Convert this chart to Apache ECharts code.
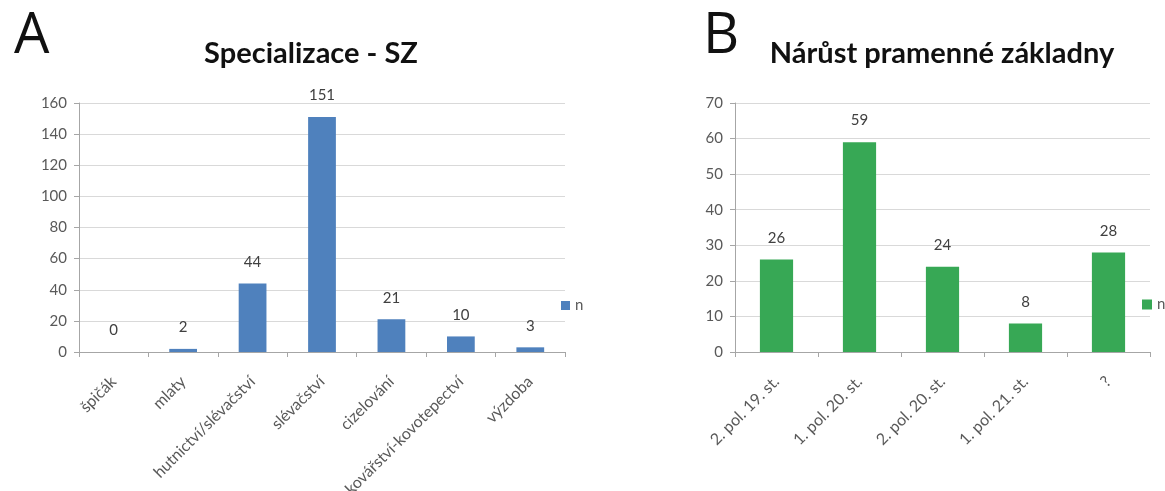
<!DOCTYPE html>
<html>
<head>
<meta charset="utf-8">
<script src="https://cdn.jsdelivr.net/npm/echarts@6/dist/echarts.min.js"></script>
<style>
  html, body { margin: 0; padding: 0; background: #fff; }
  #chart { width: 1165px; height: 491px; }
</style>
</head>
<body>
<div id="chart"></div>
<script>
// Panel A: specialisation counts
const specCategories = ['špičák', 'mlaty', 'hutnictví/slévačství', 'slévačství', 'cizelování', 'kovářství-kovotepectví', 'výzdoba'];
const specValues = [0, 2, 44, 151, 21, 10, 3];

// Panel B: growth of the source base by period
const periodCategories = ['2. pol. 19. st.', '1. pol. 20. st.', '2. pol. 20. st.', '1. pol. 21. st.', '?'];
const periodValues = [26, 59, 24, 8, 28];

const FONT = 'Lato, "Open Sans", sans-serif';
const axisGray = '#A6A6A6';
const gridGray = '#D9D9D9';
const labelColor = '#595959';

function xAxisFor(gridIndex, data) {
  return {
    type: 'category', gridIndex: gridIndex, data: data,
    axisLine: { lineStyle: { color: axisGray, width: 1 } },
    axisTick: { show: true, length: 5, lineStyle: { color: axisGray } },
    axisLabel: { rotate: 45, margin: 27, color: labelColor, fontSize: 16, fontFamily: FONT, interval: 0 }
  };
}
function yAxisFor(gridIndex, max, interval) {
  return {
    type: 'value', gridIndex: gridIndex, min: 0, max: max, interval: interval,
    axisLine: { show: true, lineStyle: { color: axisGray, width: 1 } },
    axisTick: { show: true, length: 5, lineStyle: { color: axisGray } },
    splitLine: { lineStyle: { color: gridGray, width: 1 } },
    axisLabel: { margin: 12, color: labelColor, fontSize: 15, fontFamily: FONT }
  };
}
const valueLabel = { show: true, position: 'top', distance: 14, color: '#404040', fontSize: 15, fontFamily: FONT };

const chart = echarts.init(document.getElementById('chart'), null, { renderer: 'canvas' });
chart.setOption({
  animation: false,
  backgroundColor: '#fff',
  title: [
    { text: 'A', left: 9, top: 4, textStyle: { fontFamily: '"Open Sans", sans-serif', fontWeight: 'normal', fontSize: 56, color: '#111' } },
    { text: 'B', left: 698, top: 4, textStyle: { fontFamily: '"Open Sans", sans-serif', fontWeight: 'normal', fontSize: 56, color: '#111' } },
    { text: 'Specializace - SZ', left: 306, top: 34, textAlign: 'center', textStyle: { fontFamily: FONT, fontWeight: 'bold', fontSize: 29, color: '#111' } },
    { text: 'Nárůst pramenné základny', left: 937, top: 34, textAlign: 'center', textStyle: { fontFamily: FONT, fontWeight: 'bold', fontSize: 29, color: '#111' } }
  ],
  legend: [
    { data: ['nA'], left: 556, top: 293, itemWidth: 9, itemHeight: 9, icon: 'rect', formatter: () => 'n',
      textStyle: { fontFamily: FONT, fontSize: 15, color: labelColor } },
    { data: ['nB'], left: 1137, top: 292, itemWidth: 10, itemHeight: 10, icon: 'rect', formatter: () => 'n',
      textStyle: { fontFamily: FONT, fontSize: 15, color: labelColor } }
  ],
  grid: [
    { left: 79, top: 103, width: 486, height: 249, outerBoundsMode: 'none' },
    { left: 735, top: 103, width: 415, height: 249, outerBoundsMode: 'none' }
  ],
  xAxis: [xAxisFor(0, specCategories), xAxisFor(1, periodCategories)],
  yAxis: [yAxisFor(0, 160, 20), yAxisFor(1, 70, 10)],
  series: [
    { name: 'nA', type: 'bar', xAxisIndex: 0, yAxisIndex: 0, data: specValues, barCategoryGap: '60%',
      itemStyle: { color: '#4F81BD' }, label: valueLabel },
    { name: 'nB', type: 'bar', xAxisIndex: 1, yAxisIndex: 1, data: periodValues, barCategoryGap: '60%',
      itemStyle: { color: '#37A855' }, label: valueLabel }
  ]
});
</script>
</body>
</html>
